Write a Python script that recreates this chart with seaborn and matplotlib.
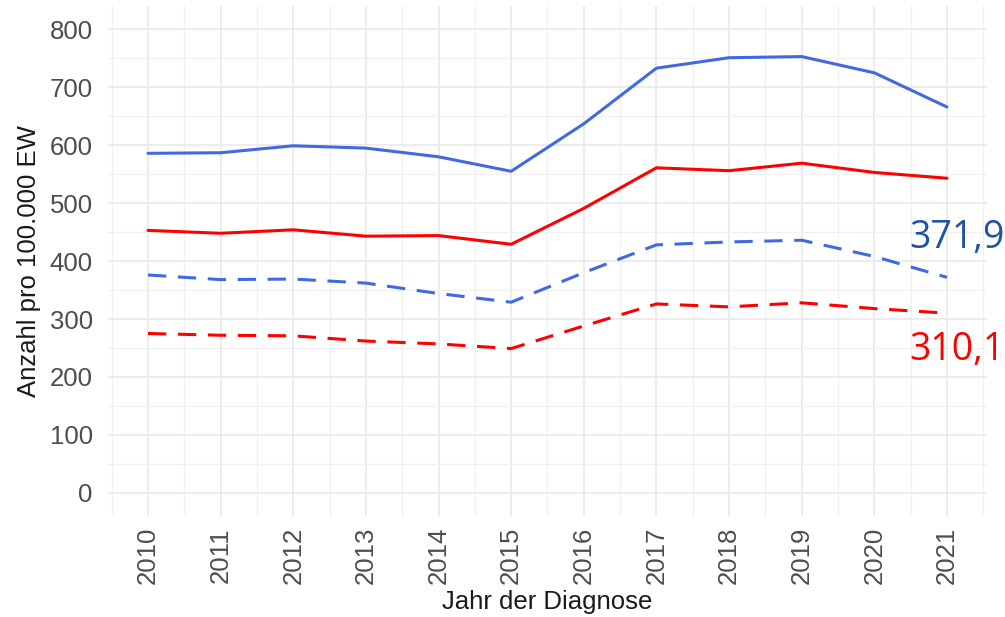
#!/usr/bin/env python3

import matplotlib
matplotlib.use('Agg')
import matplotlib.pyplot as plt
from matplotlib.ticker import MultipleLocator
import seaborn as sns
import pandas as pd

# Werte
jahre = list(range(2010, 2022))
blau_roh = [586, 587, 599, 595, 580, 555, 637, 733, 751, 753, 725, 666]
rot_roh = [453, 448, 454, 443, 444, 429, 491, 561, 556, 569, 553, 543]
blau_std = [376, 368, 369, 362, 344, 329, 380, 428, 433, 436, 408, 371.9]
rot_std = [275, 272, 271, 262, 257, 249, 288, 326, 321, 328, 318, 310.1]

reihen = {
    'blau_roh': blau_roh,
    'rot_roh': rot_roh,
    'blau_std': blau_std,
    'rot_std': rot_std,
}

rows = []
for name, werte in reihen.items():
    farbe, art = name.split('_')
    for j, w in zip(jahre, werte):
        rows.append({'jahr': j, 'wert': w, 'farbe': farbe, 'art': art, 'reihe': name})
df = pd.DataFrame(rows)

sns.set_theme(style='whitegrid')
plt.rcParams['font.family'] = ['Liberation Sans', 'DejaVu Sans']

fig = plt.figure(figsize=(10.05, 6.17), dpi=100)
ax = fig.add_axes([0.1075, 0.1637, 0.8745, 0.8263])

sns.lineplot(data=df, x='jahr', y='wert', hue='farbe', style='art',
             palette={'blau': '#4169E1', 'rot': '#FF0000'},
             dashes={'roh': '', 'std': (6, 3.8)},
             units='reihe', estimator=None, linewidth=2.2,
             legend=False, ax=ax)

ax.set_xlim(2009.45, 2021.55)
ax.set_ylim(-40, 840)
ax.set_xticks(jahre)
ax.set_xticklabels([str(j) for j in jahre], rotation=90)
ax.xaxis.set_minor_locator(MultipleLocator(0.5))
ax.set_yticks(range(0, 801, 100))
ax.yaxis.set_minor_locator(MultipleLocator(50))

ax.grid(which='major', color='#ebebeb', linewidth=1.3)
ax.grid(which='minor', color='#f0f0f0', linewidth=0.9)
ax.set_axisbelow(True)
for s in ax.spines.values():
    s.set_visible(False)

ax.tick_params(axis='both', which='both', length=0, labelsize=18.5, labelcolor='#4d4d4d')
ax.tick_params(axis='y', pad=11)
ax.tick_params(axis='x', pad=8)

ax.set_xlabel('Jahr der Diagnose', fontsize=18.5, color='#1a1a1a', labelpad=4)
ax.set_ylabel('Anzahl pro 100.000 EW', fontsize=18.5, color='#1a1a1a', labelpad=6)

# Endwerte beschriften
ax.annotate('371,9', xy=(jahre[-1], blau_std[-1]), xytext=(-38, 29),
            textcoords='offset pixels', fontsize=27, color='#1E55A0',
            family=['Open Sans', 'DejaVu Sans'], ha='left', va='baseline',
            annotation_clip=False)
ax.annotate('310,1', xy=(jahre[-1], rot_std[-1]), xytext=(-38, -47),
            textcoords='offset pixels', fontsize=27, color='#FF0000',
            family=['Open Sans', 'DejaVu Sans'], ha='left', va='baseline',
            annotation_clip=False)

fig.savefig('out.png', dpi=100)
plt.close(fig)
